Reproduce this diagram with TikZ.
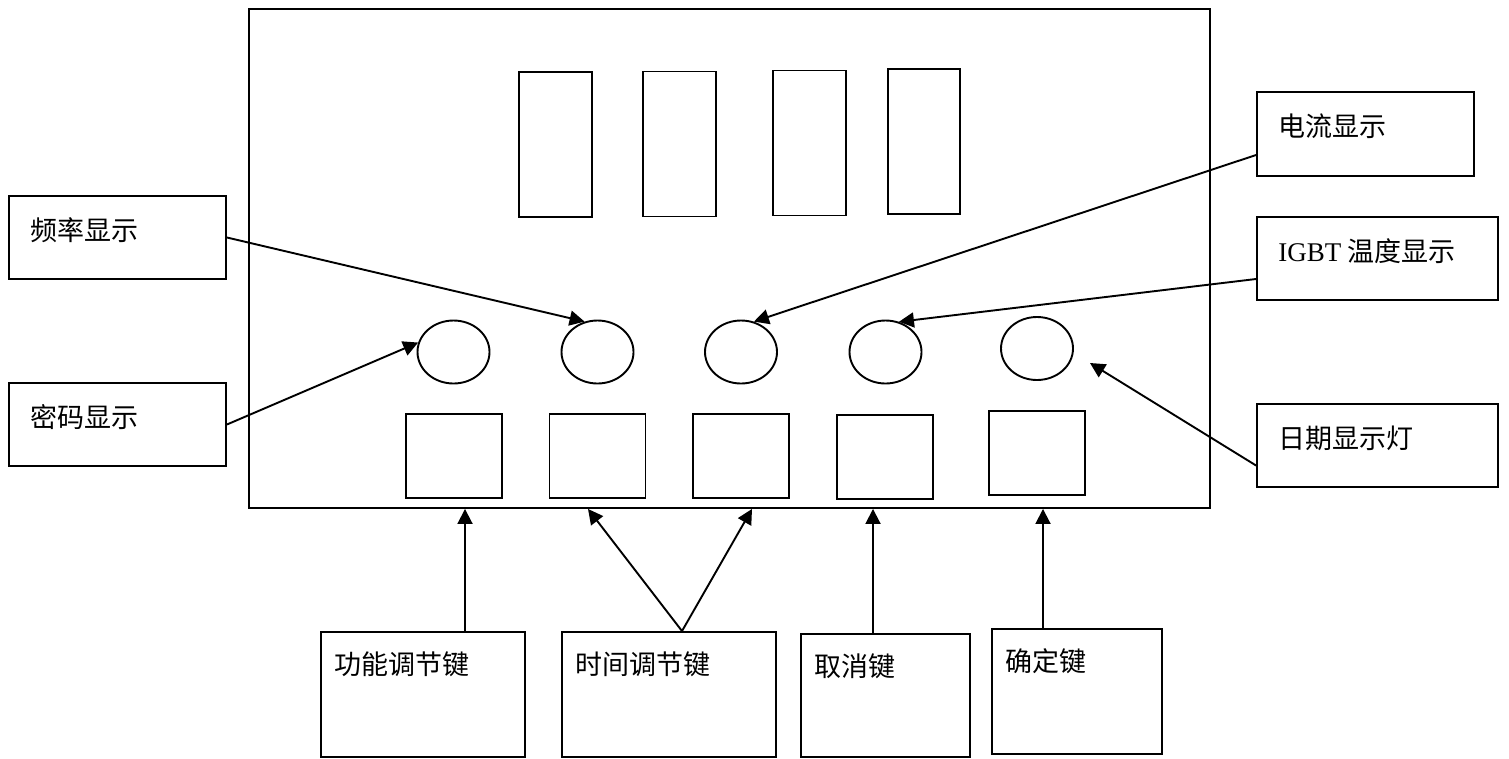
\documentclass[tikz,border=0pt]{standalone}
\usepackage{fontspec}
\setmainfont{Liberation Serif}
\newfontfamily\cjk{Noto Sans CJK SC}
\usetikzlibrary{arrows.meta,shapes.geometric}

\tikzset{
  box/.style={draw, line width=1.9pt, inner sep=0pt},
  panel/.style={box, minimum width=961, minimum height=499},
  seg/.style={box, minimum width=73, minimum height=145},
  led/.style={box, ellipse, minimum width=72, minimum height=63},
  key/.style={box, minimum width=96, minimum height=84},
  tag/.style={box, minimum width=217, minimum height=83},
  tagtext/.style={anchor=west, inner sep=0pt, xshift=22, yshift=-35,
    font=\fontsize{27}{31}\selectfont\cjk},
  keytext/.style={anchor=west, inner sep=0pt, xshift=14, yshift=-33,
    font=\fontsize{27}{31}\selectfont\cjk},
  arr/.style={line width=1.9pt, -{Triangle[length=15pt,width=15pt]}}
}

\begin{document}
\begin{tikzpicture}[x=1pt,y=1pt,yscale=-1]
\useasboundingbox (0,0) rectangle (1509,758);

%Panel
\node [panel] (panel) at (729.5,258.5) {};

%Display digits
\node [seg] (seg1) at (555.5,144.5) {};
\node [seg] (seg2) at (679.5,144) {};
\node [seg] (seg3) at (809.5,143) {};
\node [seg, minimum width=72] (seg4) at (924,141.5) {};

%Indicator lamps
\node [led] (led1) at (453.5,352) {};
\node [led] (led2) at (597.5,352) {};
\node [led] (led3) at (741,352) {};
\node [led] (led4) at (885.5,352) {};
\node [led] (led5) at (1037,348.5) {};

%Keys
\node [key] (key1) at (453.75,456) {};
\node [key] (key2) at (597.5,456) {};
\node [key] (key3) at (741.4,456) {};
\node [key] (key4) at (885.25,457) {};
\node [key] (key5) at (1037,453) {};

%Left labels
\node [tag, label={[tagtext]north west:频率显示}] (freq) at (117.5,237.5) {};
\node [tag, label={[tagtext]north west:密码显示}] (pwd) at (117.5,424.5) {};

%Right labels
\node [tag, minimum height=84, label={[tagtext]north west:电流显示}] (cur) at (1365.5,134) {};
\node [tag, minimum width=241, label={[tagtext]north west:{\rmfamily IGBT} 温度显示}] (igbt) at (1377.5,258.5) {};
\node [tag, minimum width=241, label={[tagtext]north west:日期显示灯}] (date) at (1377.5,445.5) {};

%Bottom labels
\node [tag, minimum width=204, minimum height=125, label={[keytext]north west:功能调节键}] (fkey) at (423,694.5) {};
\node [tag, minimum width=214, minimum height=125, label={[keytext]north west:时间调节键}] (tkey) at (669,694.5) {};
\node [tag, minimum width=169, minimum height=123, label={[keytext]north west:取消键}] (ckey) at (885.5,695.5) {};
\node [tag, minimum width=170, minimum height=125, label={[keytext]north west:确定键}] (okey) at (1077,691.5) {};

\coordinate (datetip) at (1090,363);

%Arrows
\draw [arr] (freq.east) -- (led2.113);
\draw [arr] (pwd.east) -- (led1.165);
\draw [arr] ([yshift=21]cur.west) -- (led3.67);
\draw [arr] ([yshift=20.5]igbt.west) -- (led4.66);
\draw [arr] ([yshift=20]date.west) -- (datetip);
\draw [arr] ([xshift=42]fkey.north) -- ([xshift=42]fkey.north |- panel.south);
\draw [arr] ([xshift=13]tkey.north) -- ([xshift=-81]tkey.north |- panel.south);
\draw [arr] ([xshift=13]tkey.north) -- ([xshift=83]tkey.north |- panel.south);
\draw [arr] ([xshift=-12.5]ckey.north) -- ([xshift=-12.5]ckey.north |- panel.south);
\draw [arr] ([xshift=-34]okey.north) -- ([xshift=-34]okey.north |- panel.south);
\end{tikzpicture}
\end{document}
